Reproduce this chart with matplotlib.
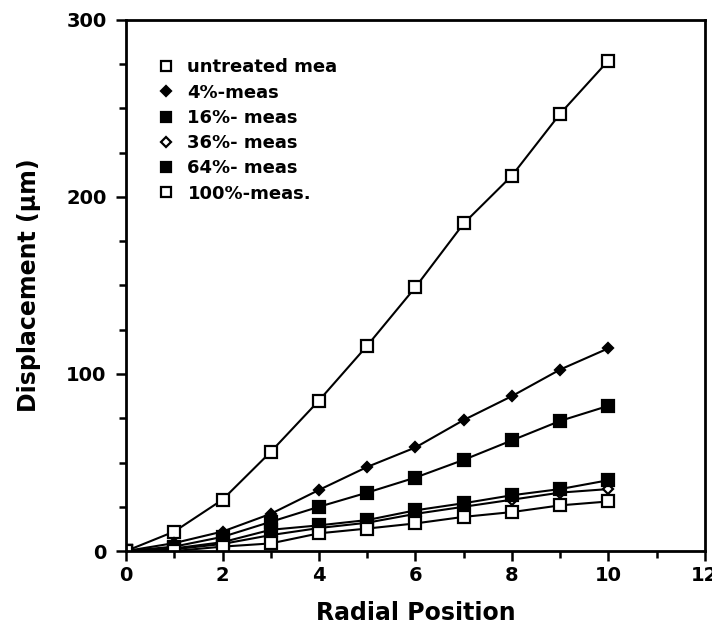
#=========================================================================
# plot.py
#=========================================================================
# Displacement vs radial position for the treated / untreated samples.

import matplotlib
matplotlib.use('Agg')
import matplotlib.pyplot as plt
from matplotlib.ticker import MultipleLocator

#-------------------------------------------------------------------------
# Data
#-------------------------------------------------------------------------

radial = [0, 1, 2, 3, 4, 5, 6, 7, 8, 9, 10]

untreated = [0, 11, 29, 56, 85, 116, 149, 185, 212, 247, 277]
meas_4    = [0, 4.5, 11, 21, 34.5, 47.5, 58.5, 74, 87.5, 102.5, 114.5]
meas_16   = [0, 2.5, 8, 16.5, 25, 33, 41.5, 51.5, 62.5, 73.5, 82]
meas_36   = [0, 1, 4, 9, 13, 16, 21, 25, 29, 33, 35]
meas_64   = [0, 1.5, 5, 12, 14.5, 17.5, 23, 27, 31.5, 35, 40]
meas_100  = [0, 0, 2.5, 4.3, 10, 12.7, 15.6, 19.3, 22, 25.8, 28]

labels = ['untreated mea', '4%-meas', '16%- meas', '36%- meas',
          '64%- meas', '100%-meas.']

#-------------------------------------------------------------------------
# Configure matplotlib
#-------------------------------------------------------------------------

plt.rcParams['font.family'] = 'DejaVu Sans'
plt.rcParams['font.weight'] = 'bold'

fig = plt.figure(figsize=(7.12, 6.4), dpi=100)
ax = fig.add_axes([0.177, 0.139, 0.813, 0.830])

#-------------------------------------------------------------------------
# Create plot
#-------------------------------------------------------------------------

series = [untreated, meas_4, meas_16, meas_36, meas_64, meas_100]
styles = [
  dict(marker='s', mfc='white', ms=9),
  dict(marker='D', mfc='black', ms=5.5),
  dict(marker='s', mfc='black', ms=9),
  dict(marker='D', mfc='white', ms=5.5),
  dict(marker='s', mfc='black', ms=9),
  dict(marker='s', mfc='white', ms=9),
]

for y, lab, st in zip(series, labels, styles):
  ax.plot(radial, y, color='black', lw=1.5, mec='black', mew=1.6,
          label=lab, **st)

ax.set_xlim(0, 12)
ax.set_ylim(0, 300)
ax.xaxis.set_major_locator(MultipleLocator(2))
ax.xaxis.set_minor_locator(MultipleLocator(1))
ax.yaxis.set_major_locator(MultipleLocator(100))
ax.yaxis.set_minor_locator(MultipleLocator(25))

ax.tick_params(which='both', direction='out', width=1.8, labelsize=14,
               top=False, right=False)
ax.tick_params(which='major', length=7)
ax.tick_params(which='minor', length=5)
ax.tick_params(axis='y', which='major', pad=7)

for s in ax.spines.values():
  s.set_linewidth(2)

ax.set_xlabel('Radial Position', fontsize=17, fontweight='bold',
              labelpad=12)
ax.set_ylabel('Displacement (\u03bcm)', fontsize=17, fontweight='bold',
              labelpad=18)

ax.legend(loc='upper left', frameon=False, fontsize=13,
          bbox_to_anchor=(0.025, 0.958), handlelength=1.0,
          handletextpad=0.7, labelspacing=0.4)
leg = ax.get_legend()
for h, st in zip(leg.legend_handles, styles):
  h.set_linestyle('none')
  h.set_markersize(7 if st['marker'] == 's' else 5)

#-------------------------------------------------------------------------
# Save
#-------------------------------------------------------------------------

fig.savefig('out.png', dpi=100)
